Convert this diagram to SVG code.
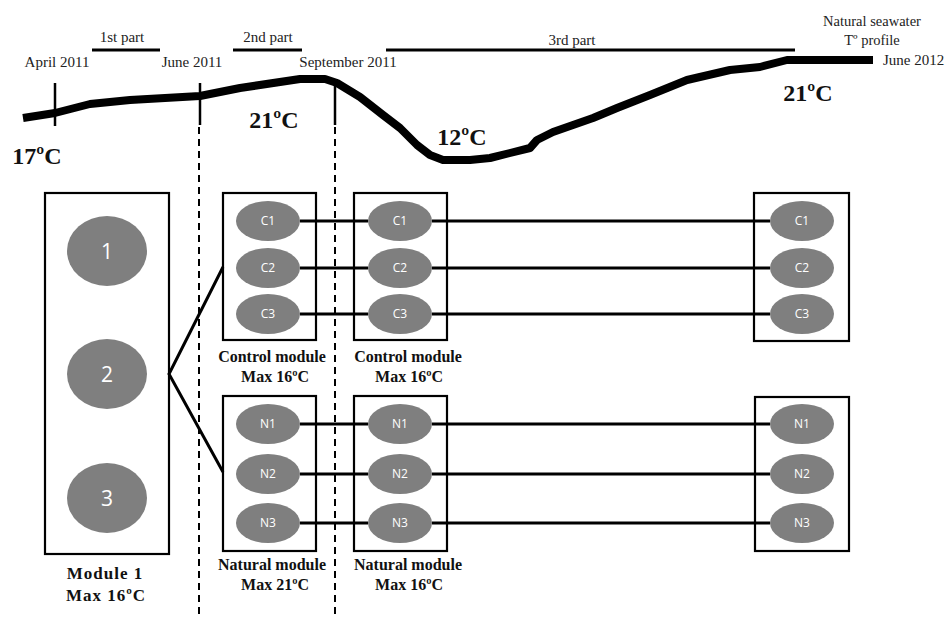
<svg xmlns="http://www.w3.org/2000/svg" width="951" height="617" viewBox="0 0 951 617">
<style>
.t{font-family:"Liberation Serif",serif;fill:#222}
.b{font-family:"Liberation Serif",serif;font-weight:bold;fill:#111}
.ml{font-size:16px;text-anchor:middle}
.box{fill:none;stroke:#000;stroke-width:2.2}
.el{fill:#7f7f7f}
.lab{font-family:"Open Sans","DejaVu Sans",sans-serif;fill:#fff;font-size:12px;text-anchor:middle}
.big{font-family:"Open Sans","DejaVu Sans",sans-serif;fill:#fff;font-size:21px;text-anchor:middle}
.c{stroke:#000;stroke-width:3;fill:none}
.bar{stroke:#000;stroke-width:3}
</style>
<rect width="951" height="617" fill="#fff"/>
<g id="timeline">
<line class="bar" x1="92" y1="50" x2="160" y2="50"/>
<line class="bar" x1="233" y1="50" x2="302" y2="50"/>
<line class="bar" x1="386" y1="50" x2="795" y2="50"/>
<text class="t" x="122" y="42" font-size="15" text-anchor="middle">1st part</text>
<text class="t" x="268" y="42" font-size="15" text-anchor="middle">2nd part</text>
<text class="t" x="572" y="45" font-size="15" text-anchor="middle">3rd part</text>
<text class="t" x="57" y="67" font-size="15" text-anchor="middle">April 2011</text>
<text class="t" x="192" y="67" font-size="15" text-anchor="middle">June 2011</text>
<text class="t" x="348" y="67" font-size="15" text-anchor="middle">September 2011</text>
<text class="t" x="872" y="26" font-size="14.5" text-anchor="middle">Natural seawater</text>
<text class="t" x="872" y="45" font-size="14.5" text-anchor="middle">Tº profile</text>
<text class="t" x="883" y="65" font-size="15">June 2012</text>
<path d="M23,118 L55,113 L90,104 L130,100 L200,96 L240,88 L300,79 L325,79 L337,83 L360,97 L383,115 L400,128 L417,145 L430,155 L443,160 L470,160 L490,158 L530,148 L537,140 L553,132 L593,118 L617,108 L650,95 L687,80 L730,70 L760,67 L787,60 L873,60" fill="none" stroke="#000" stroke-width="8" stroke-linejoin="round"/>
<line x1="55" y1="83" x2="55" y2="126" stroke="#000" stroke-width="2.5"/>
<line x1="200" y1="83" x2="200" y2="125" stroke="#000" stroke-width="2.5"/>
<line x1="335" y1="82" x2="335" y2="125" stroke="#000" stroke-width="2.5"/>
<text class="b" x="37" y="164" font-size="24" text-anchor="middle">17ºC</text>
<text class="b" x="274" y="128" font-size="24" text-anchor="middle">21ºC</text>
<text class="b" x="462" y="145" font-size="24" text-anchor="middle">12ºC</text>
<text class="b" x="808" y="101" font-size="24" text-anchor="middle">21ºC</text>
</g>
<g id="dividers" stroke="#000" stroke-width="2" stroke-dasharray="7,5">
<line x1="199" y1="127" x2="199" y2="617"/>
<line x1="335" y1="127" x2="335" y2="617"/>
</g>
<g id="connectors">
<path class="c" d="M223,267 L169,374 L223,472"/>
<line class="c" x1="300" y1="221" x2="368" y2="221"/>
<line class="c" x1="300" y1="268" x2="368" y2="268"/>
<line class="c" x1="300" y1="314" x2="368" y2="314"/>
<line class="c" x1="432" y1="221" x2="770" y2="221"/>
<line class="c" x1="432" y1="268" x2="770" y2="268"/>
<line class="c" x1="432" y1="314" x2="770" y2="314"/>
<line class="c" x1="300" y1="424" x2="368" y2="424"/>
<line class="c" x1="300" y1="474" x2="368" y2="474"/>
<line class="c" x1="300" y1="523" x2="368" y2="523"/>
<line class="c" x1="432" y1="424" x2="770" y2="424"/>
<line class="c" x1="432" y1="474" x2="770" y2="474"/>
<line class="c" x1="432" y1="523" x2="770" y2="523"/>
</g>
<g id="module1">
<rect class="box" x="45" y="193" width="124" height="361"/>
<ellipse class="el" cx="107" cy="251" rx="40" ry="35"/>
<text class="big" x="107" y="259">1</text>
<ellipse class="el" cx="107" cy="374" rx="40" ry="35"/>
<text class="big" x="107" y="382">2</text>
<ellipse class="el" cx="107" cy="498" rx="40" ry="35"/>
<text class="big" x="107" y="506">3</text>
<text class="b" x="105" y="579" font-size="17" text-anchor="middle" letter-spacing="1">Module 1</text>
<text class="b" x="106" y="601" font-size="17" text-anchor="middle" letter-spacing="1">Max 16ºC</text>
</g>
<g id="control1">
<rect class="box" x="223" y="193" width="93" height="147"/>
<ellipse class="el" cx="268" cy="221" rx="32" ry="20"/><text class="lab" x="268" y="225">C1</text>
<ellipse class="el" cx="268" cy="268" rx="32" ry="20"/><text class="lab" x="268" y="272">C2</text>
<ellipse class="el" cx="268" cy="314" rx="32" ry="20"/><text class="lab" x="268" y="318">C3</text>
<text class="b ml" x="272" y="362">Control module</text>
<text class="b ml" x="275" y="382">Max 16ºC</text>
</g>
<g id="control2">
<rect class="box" x="354" y="193" width="93" height="147"/>
<ellipse class="el" cx="400" cy="221" rx="32" ry="20"/><text class="lab" x="400" y="225">C1</text>
<ellipse class="el" cx="400" cy="268" rx="32" ry="20"/><text class="lab" x="400" y="272">C2</text>
<ellipse class="el" cx="400" cy="314" rx="32" ry="20"/><text class="lab" x="400" y="318">C3</text>
<text class="b ml" x="408" y="362">Control module</text>
<text class="b ml" x="409" y="382">Max 16ºC</text>
</g>
<g id="control3">
<rect class="box" x="754" y="193" width="95" height="148"/>
<ellipse class="el" cx="802" cy="221" rx="32" ry="20"/><text class="lab" x="802" y="225">C1</text>
<ellipse class="el" cx="802" cy="268" rx="32" ry="20"/><text class="lab" x="802" y="272">C2</text>
<ellipse class="el" cx="802" cy="314" rx="32" ry="20"/><text class="lab" x="802" y="318">C3</text>
</g>
<g id="natural1">
<rect class="box" x="223" y="396" width="93" height="155"/>
<ellipse class="el" cx="268" cy="424" rx="32" ry="20"/><text class="lab" x="268" y="428">N1</text>
<ellipse class="el" cx="268" cy="474" rx="32" ry="20"/><text class="lab" x="268" y="478">N2</text>
<ellipse class="el" cx="268" cy="523" rx="32" ry="20"/><text class="lab" x="268" y="527">N3</text>
<text class="b ml" x="272" y="570">Natural module</text>
<text class="b ml" x="275" y="590">Max 21ºC</text>
</g>
<g id="natural2">
<rect class="box" x="354" y="396" width="93" height="155"/>
<ellipse class="el" cx="400" cy="424" rx="32" ry="20"/><text class="lab" x="400" y="428">N1</text>
<ellipse class="el" cx="400" cy="474" rx="32" ry="20"/><text class="lab" x="400" y="478">N2</text>
<ellipse class="el" cx="400" cy="523" rx="32" ry="20"/><text class="lab" x="400" y="527">N3</text>
<text class="b ml" x="408" y="570">Natural module</text>
<text class="b ml" x="409" y="590">Max 16ºC</text>
</g>
<g id="natural3">
<rect class="box" x="755" y="397" width="94" height="154"/>
<ellipse class="el" cx="802" cy="424" rx="32" ry="20"/><text class="lab" x="802" y="428">N1</text>
<ellipse class="el" cx="802" cy="474" rx="32" ry="20"/><text class="lab" x="802" y="478">N2</text>
<ellipse class="el" cx="802" cy="523" rx="32" ry="20"/><text class="lab" x="802" y="527">N3</text>
</g>
</svg>
